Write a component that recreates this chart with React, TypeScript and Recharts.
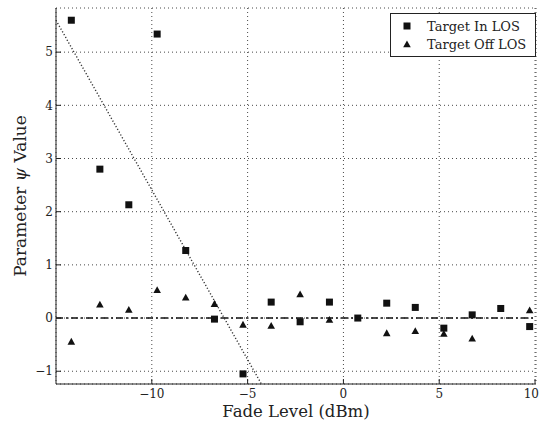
import React from 'react';
import { ComposedChart, Scatter, Line, XAxis, YAxis, CartesianGrid, ReferenceLine } from 'recharts';

const losX = [-14.2, -12.71, -11.2, -9.72, -8.23, -6.73, -5.24, -3.77, -2.26, -0.73, 0.75, 2.26, 3.75, 5.24, 6.72, 8.21, 9.72];
const losY = [5.6, 2.8, 2.13, 5.34, 1.27, -0.02, -1.05, 0.3, -0.07, 0.3, 0.0, 0.28, 0.2, -0.19, 0.06, 0.18, -0.16];
const offX = [-14.2, -12.71, -11.2, -9.72, -8.23, -6.73, -5.24, -3.77, -2.26, -0.73, 2.26, 3.75, 5.24, 6.72, 9.72];
const offY = [-0.44, 0.26, 0.16, 0.53, 0.39, 0.27, -0.12, -0.14, 0.45, -0.03, -0.28, -0.24, -0.29, -0.38, 0.15];
const fitX = [-15, -4.28];
const fitY = [5.6, -1.24];
const xTicks = [-10, -5, 0, 5, 10];
const yTicks = [-1, 0, 1, 2, 3, 4, 5];
const xDomain: [number, number] = [-15, 10.05];
const yDomain: [number, number] = [-1.24, 5.83];

const losData = losX.map((x, i) => ({ x, y: losY[i] }));
const offData = offX.map((x, i) => ({ x, y: offY[i] }));
const fitData = fitX.map((x, i) => ({ x, y: fitY[i] }));

const FONT = "'DejaVu Serif', serif";
const fmt = (v: number) => String(v).replace('-', '\u2212');

const Square = (props: any) => {
  const { cx, cy } = props;
  if (cx == null || cy == null) return <g />;
  return <rect x={cx - 3.5} y={cy - 3.5} width={7} height={7} fill="#111" />;
};

const Triangle = (props: any) => {
  const { cx, cy } = props;
  if (cx == null || cy == null) return <g />;
  return <polygon points={`${cx},${cy - 3.6} ${cx - 3.8},${cy + 3.2} ${cx + 3.8},${cy + 3.2}`} fill="#111" />;
};

const XLabel = (props: any) => {
  const vb = props.viewBox || {};
  const cx = vb.x + vb.width / 2;
  const y = vb.y + 32.5;
  return (
    <text x={cx} y={y} textAnchor="middle" style={{ fontFamily: FONT, fontSize: 16.5 }} fill="#222">
      Fade Level (dBm)
    </text>
  );
};

const YLabel = (props: any) => {
  const vb = props.viewBox || {};
  const cx = vb.x + 20;
  const cy = vb.y + vb.height / 2;
  return (
    <text x={cx} y={cy} transform={`rotate(-90, ${cx}, ${cy})`} textAnchor="middle" dominantBaseline="central" style={{ fontFamily: FONT, fontSize: 17 }} fill="#222">
      Parameter <tspan fontStyle="italic">ψ</tspan> Value
    </text>
  );
};

const Empty = () => <g />;

export default function App() {
  const tickStyle = { fill: '#222', fontSize: 12, style: { fontFamily: FONT } };
  return (
    <div style={{ position: 'absolute', left: 0, top: 0, width: 539, height: 424, background: '#fff', fontFamily: FONT }}>
      <ComposedChart width={539} height={424} margin={{ top: 8, right: 3, bottom: 0, left: 0 }} style={{ fontFamily: FONT }}>
        <CartesianGrid stroke="#333" strokeDasharray="1 3" strokeWidth={0.9} />
        <XAxis
          xAxisId={0}
          type="number"
          dataKey="x"
          domain={xDomain}
          ticks={xTicks}
          allowDataOverflow
          height={40}
          tickSize={-5}
          tickMargin={10}
          tickFormatter={fmt}
          tick={tickStyle}
          axisLine={{ stroke: '#222' }}
          tickLine={{ stroke: '#222' }}
          label={<XLabel />}
        />
        <XAxis
          xAxisId="top"
          orientation="top"
          type="number"
          dataKey="x"
          domain={xDomain}
          ticks={xTicks}
          allowDataOverflow
          height={0}
          tickSize={-5}
          tick={Empty}
          axisLine={{ stroke: '#222' }}
          tickLine={{ stroke: '#222' }}
        />
        <YAxis
          yAxisId={0}
          type="number"
          dataKey="y"
          domain={yDomain}
          ticks={yTicks}
          allowDataOverflow
          width={56}
          tickSize={-5}
          tickMargin={8}
          tickFormatter={fmt}
          tick={tickStyle}
          axisLine={{ stroke: '#222' }}
          tickLine={{ stroke: '#222' }}
          label={<YLabel />}
        />
        <YAxis
          yAxisId="right"
          orientation="right"
          type="number"
          dataKey="y"
          domain={yDomain}
          ticks={yTicks}
          allowDataOverflow
          width={0}
          tickSize={-5}
          tick={Empty}
          axisLine={{ stroke: '#222' }}
          tickLine={{ stroke: '#222' }}
        />
        <ReferenceLine y={0} stroke="#111" strokeWidth={1.5} strokeDasharray="7 3 2 3" ifOverflow="hidden" />
        <Line data={fitData} dataKey="y" type="linear" dot={false} stroke="#333" strokeWidth={1.4} strokeDasharray="1.2 2" isAnimationActive={false} />
        <Scatter data={losData} dataKey="y" shape={<Square />} isAnimationActive={false} />
        <Scatter data={offData} dataKey="y" shape={<Triangle />} isAnimationActive={false} />
      </ComposedChart>
      <div
        style={{
          position: 'absolute',
          left: 390,
          top: 13,
          width: 146,
          height: 44,
          border: '1px solid #222',
          background: '#fff',
          fontFamily: FONT,
          fontSize: 13,
          color: '#222',
          boxSizing: 'border-box',
        }}
      >
        <div style={{ position: 'absolute', left: 11, top: 4, display: 'flex', alignItems: 'center', height: 16 }}>
          <svg width={10} height={10} style={{ marginRight: 15 }}>
            <rect x={1.5} y={1.5} width={7} height={7} fill="#111" />
          </svg>
          <span>Target In LOS</span>
        </div>
        <div style={{ position: 'absolute', left: 11, top: 22, display: 'flex', alignItems: 'center', height: 16 }}>
          <svg width={10} height={10} style={{ marginRight: 15 }}>
            <polygon points="5,1.4 1.2,8.2 8.8,8.2" fill="#111" />
          </svg>
          <span>Target Off LOS</span>
        </div>
      </div>
    </div>
  );
}
